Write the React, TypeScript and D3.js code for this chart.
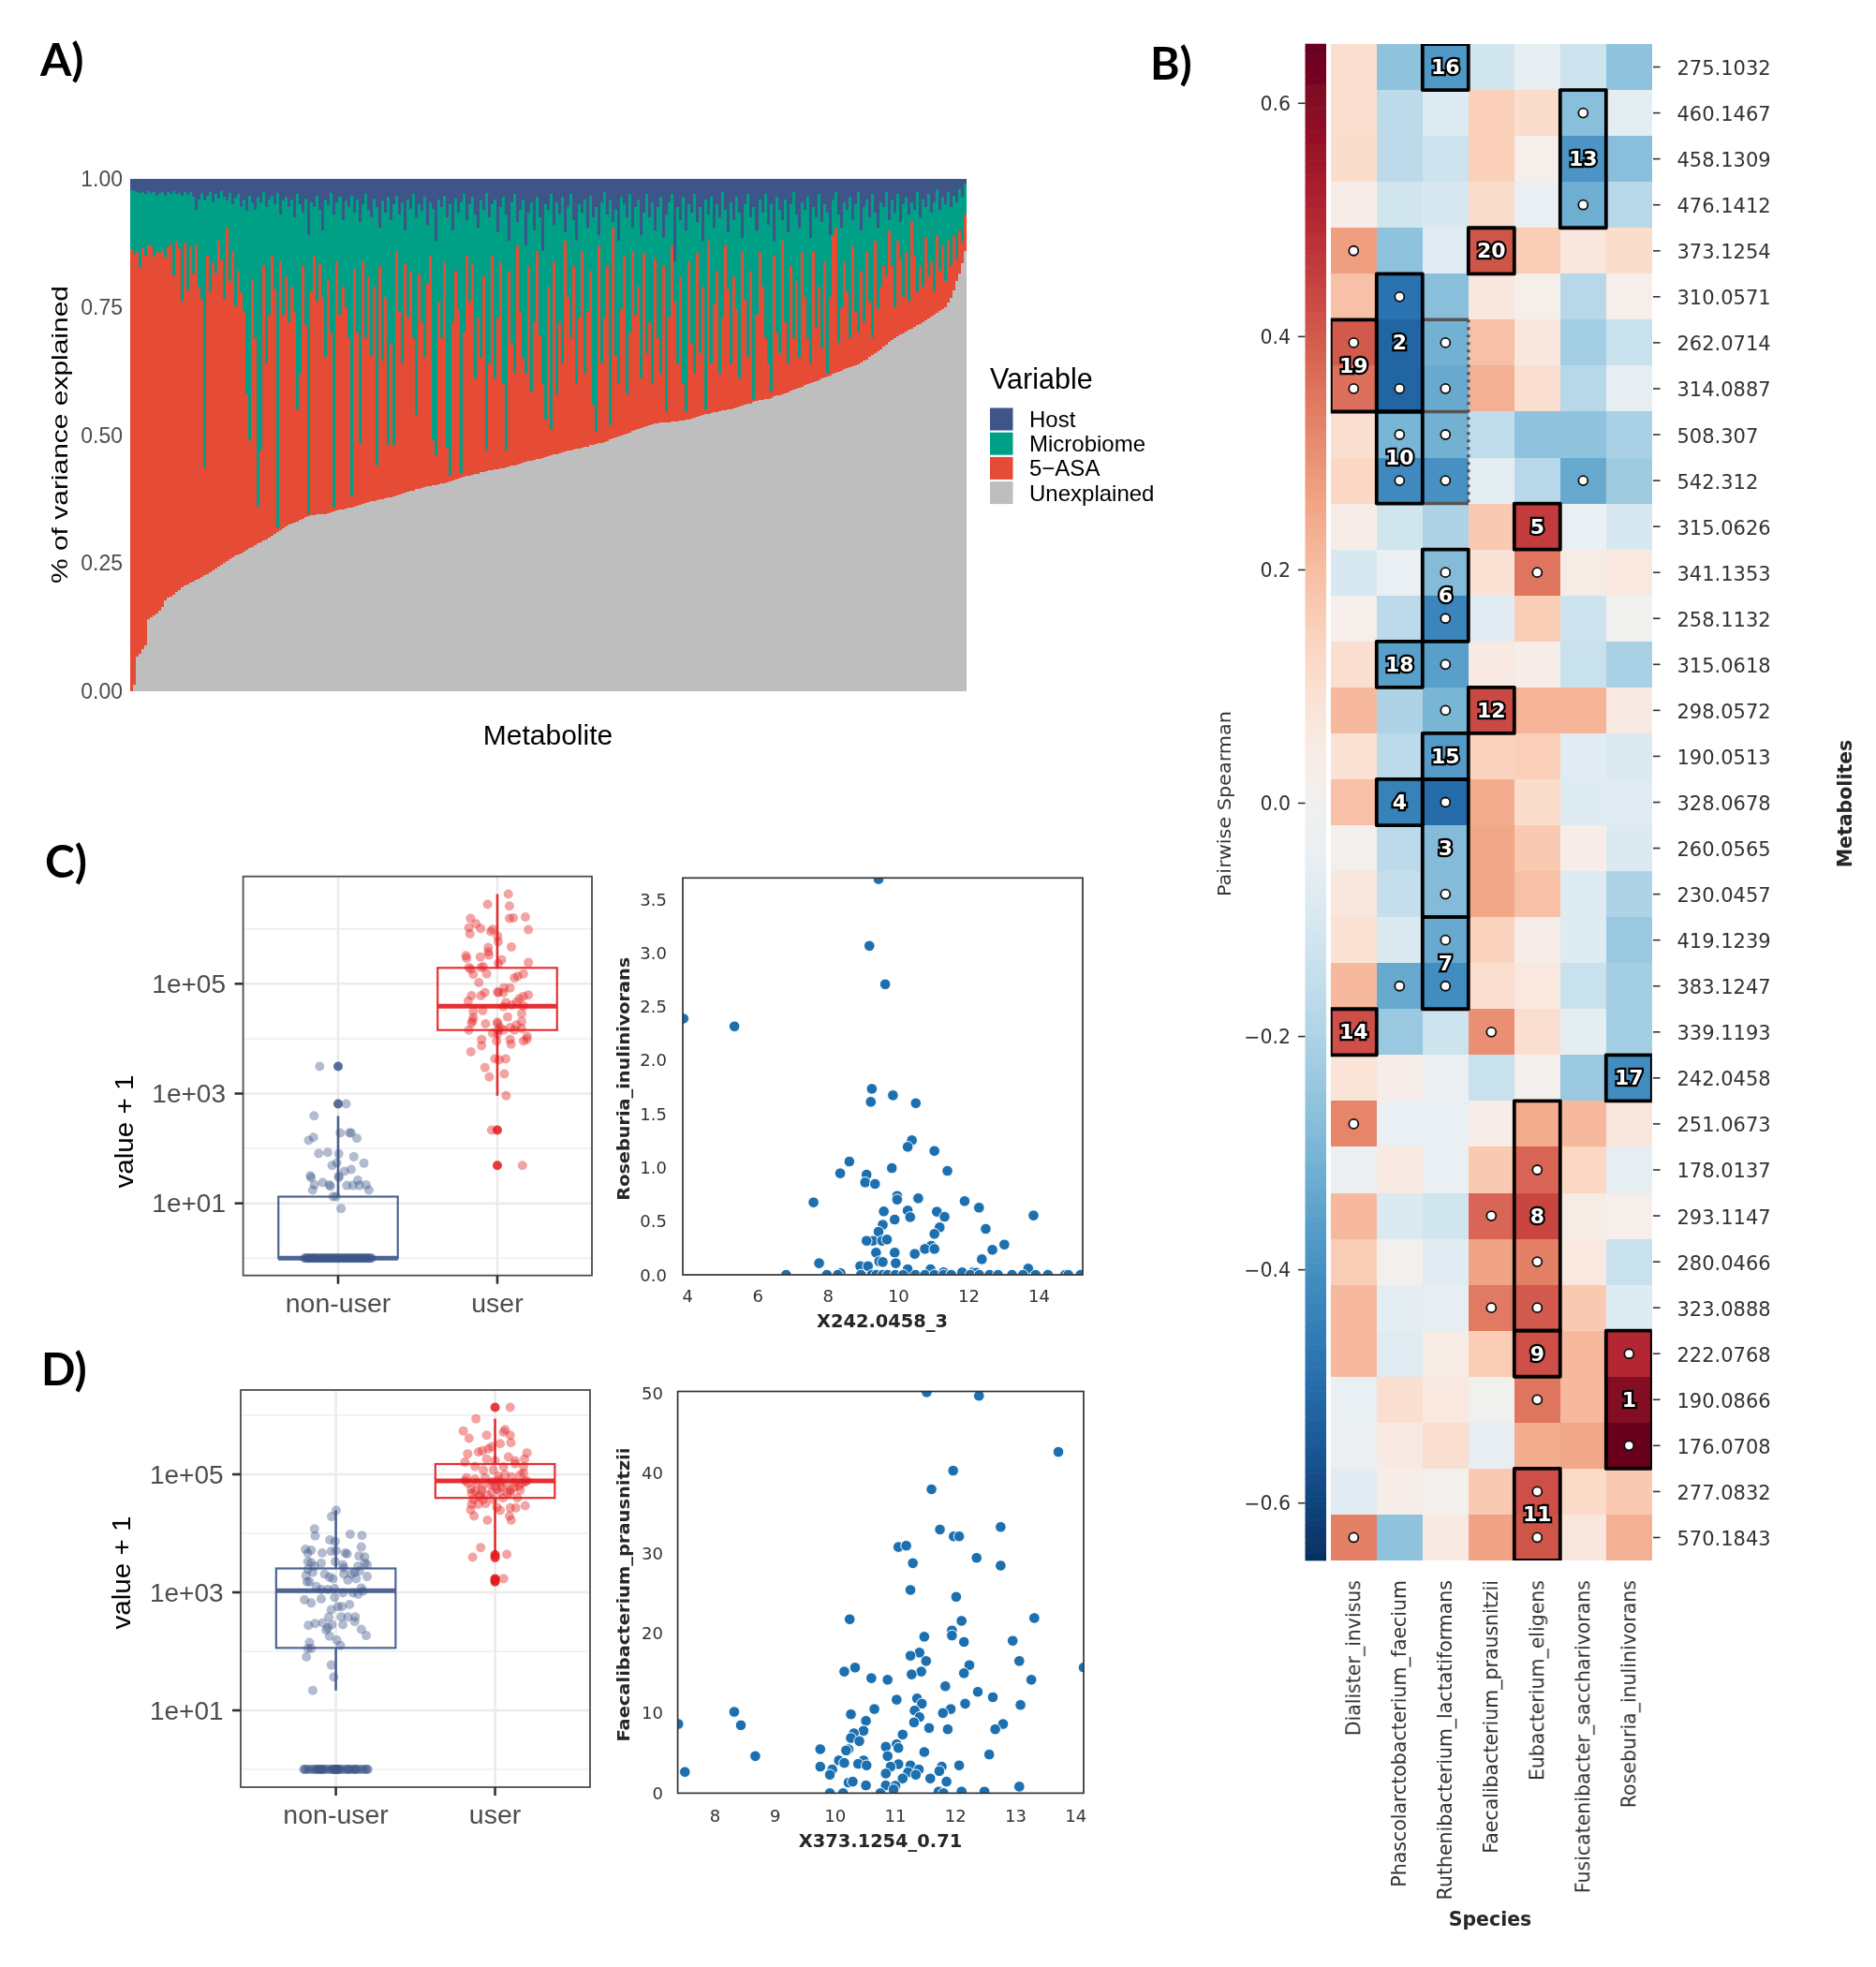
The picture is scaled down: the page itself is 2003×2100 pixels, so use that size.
import React from "react";
import * as d3 from "d3";

const SANS = "'Liberation Sans', Arial, sans-serif";
const DJ = "'DejaVu Sans', sans-serif";

// ---------- Panel A: cumulative tops of stacked bars, per mille ----------
const varianceLevels = ["Host", "Microbiome", "5\u2212ASA", "Unexplained"];
const varianceColors = ["#3C5488", "#00A087", "#E64B35", "#BEBEBE"];
const varianceTicks = [0, 0.25, 0.5, 0.75, 1];
const unexplainedTop = [
  0,12,68,74,82,90,140,144,148,152,158,165,178,182,185,189,194,198,203,206,
  208,212,214,218,220,223,226,229,232,236,240,243,246,250,254,258,262,265,267,269,
  273,276,279,282,285,288,291,294,297,300,304,308,311,315,319,322,325,327,329,331,
  334,337,340,342,343,344,345,345,346,346,347,349,351,352,354,355,357,358,359,361,
  362,364,366,367,369,371,372,373,374,375,376,378,379,380,382,384,386,388,390,391,
  392,394,395,397,399,400,401,402,403,404,405,406,407,409,411,413,415,416,418,420,
  421,423,424,425,427,428,430,431,432,433,434,435,436,437,438,440,441,443,444,446,
  447,449,450,451,453,454,456,457,459,460,462,463,465,466,468,469,470,472,473,474,
  476,477,478,480,481,482,484,485,487,489,491,493,495,497,499,501,503,505,508,510,
  512,514,516,518,520,521,522,523,524,524,525,525,526,527,527,528,529,530,531,532,
  534,536,538,539,541,542,543,544,545,546,548,549,550,551,552,554,556,558,559,561,
  562,564,566,568,569,570,571,573,575,577,578,580,582,584,586,588,590,592,594,597,
  599,601,603,605,607,610,612,615,617,620,622,624,626,628,630,632,634,636,638,641,
  645,648,652,656,660,664,668,672,677,682,686,690,693,696,699,702,705,708,711,714,
  717,720,724,728,732,735,738,742,746,750,758,768,782,800,815,835,860,
];
const asaTop = [
  863,852,860,826,866,850,872,868,848,858,855,862,846,868,872,812,880,865,760,875,
  782,868,815,872,790,765,436,850,778,838,815,880,842,765,905,800,860,752,820,778,
  742,580,490,805,690,360,470,830,640,735,850,785,320,840,735,810,720,790,740,550,
  620,830,715,345,780,850,760,835,770,650,805,700,358,840,735,790,750,690,380,825,
  700,485,840,690,810,655,790,440,830,645,770,480,680,480,860,740,640,835,730,820,
  690,540,815,720,650,795,850,490,460,760,690,840,475,420,720,820,745,425,700,850,
  760,835,610,730,650,810,470,640,850,610,730,840,600,470,820,680,620,870,740,650,
  620,830,585,720,860,695,600,530,790,510,840,580,720,640,880,770,690,830,600,730,
  860,620,740,820,560,506,870,640,730,830,520,905,655,600,745,850,580,700,860,735,
  790,610,855,660,720,600,845,690,620,830,545,730,870,760,640,810,600,545,840,680,
  620,855,660,790,550,880,640,755,820,620,730,870,785,640,810,745,610,860,765,650,
  820,570,735,860,790,690,640,585,850,700,660,880,720,640,830,690,800,650,860,770,
  690,640,860,710,790,670,840,620,770,890,905,680,750,840,780,690,870,740,700,820,
  720,860,760,690,880,745,790,830,810,900,830,750,880,845,770,860,760,915,850,780,
  830,790,885,810,840,780,890,820,870,800,880,830,890,845,900,875,930,
];
const microbiomeTop = [
  978,976,975,972,974,970,976,972,975,968,972,975,968,974,971,976,970,973,967,975,
  969,974,965,940,960,972,958,968,975,955,970,962,976,965,958,972,950,964,970,945,
  960,938,968,952,940,965,955,975,945,960,968,950,972,930,958,966,945,960,925,970,
  950,935,962,890,955,945,968,940,900,960,948,972,930,955,965,920,958,945,968,935,
  960,915,950,970,940,925,962,945,905,958,935,965,920,950,968,930,955,900,960,942,
  970,925,950,938,965,910,955,942,880,960,945,968,925,950,900,962,935,955,970,920,
  950,965,930,905,958,940,972,925,950,960,895,945,965,930,880,955,970,915,940,960,
  870,935,955,900,965,925,860,950,940,970,910,955,930,965,895,945,970,920,880,950,
  935,960,905,968,925,945,890,955,975,930,960,915,940,880,965,950,925,970,905,945,
  960,890,935,970,925,955,900,945,965,885,930,955,970,840,945,920,965,900,950,935,
  970,915,945,880,960,930,965,905,950,925,975,940,895,955,920,965,935,885,950,970,
  925,945,900,960,935,970,910,950,880,965,940,920,960,895,950,975,930,905,955,940,
  965,885,945,925,970,915,950,935,890,960,975,930,905,955,940,965,920,950,975,900,
  945,960,925,970,935,905,955,945,975,920,960,935,970,915,950,965,930,955,940,975,
  925,960,945,970,935,955,980,940,965,950,975,945,968,955,980,965,990,
];

// ---------- Panel B ----------
const metabolites = ["275.1032","460.1467","458.1309","476.1412","373.1254","310.0571","262.0714","314.0887","508.307","542.312","315.0626","341.1353","258.1132","315.0618","298.0572","190.0513","328.0678","260.0565","230.0457","419.1239","383.1247","339.1193","242.0458","251.0673","178.0137","293.1147","280.0466","323.0888","222.0768","190.0866","176.0708","277.0832","570.1843"];
const species = ["Dialister_invisus","Phascolarctobacterium_faecium","Ruthenibacterium_lactatiformans","Faecalibacterium_prausnitzii","Eubacterium_eligens","Fusicatenibacter_saccharivorans","Roseburia_inulinivorans"];
const spearman = [
  [.10,-.26,-.38,-.12,-.05,-.13,-.26],
  [.10,-.17,-.08,.15,.11,-.27,-.06],
  [.11,-.17,-.13,.15,.02,-.39,-.27],
  [.03,-.12,-.10,.11,-.04,-.32,-.18],
  [.27,-.26,-.07,.41,.16,.07,.11],
  [.19,-.48,-.27,.07,.02,-.18,.02],
  [.40,-.52,-.31,.19,.07,-.22,-.14],
  [.36,-.52,-.33,.23,.10,-.18,-.05],
  [.10,-.30,-.31,-.16,-.26,-.26,-.21],
  [.13,-.42,-.40,-.06,-.18,-.33,-.23],
  [.03,-.12,-.20,.17,.46,-.04,-.10],
  [-.10,-.04,-.28,.09,.35,.04,.06],
  [.02,-.17,-.43,-.07,.16,-.13,-.01],
  [.10,-.36,-.36,.05,.03,-.14,-.21],
  [.21,-.20,-.30,.43,.22,.22,.05],
  [.09,-.17,-.37,.14,.15,-.07,-.09],
  [.19,-.44,-.50,.24,.11,-.08,-.07],
  [.01,-.17,-.28,.25,.17,.03,-.09],
  [.07,-.15,-.28,.25,.19,-.08,-.20],
  [.09,-.09,-.33,.14,.03,-.08,-.24],
  [.21,-.33,-.41,.10,.06,-.14,-.22],
  [.42,-.24,-.13,.30,.10,-.06,-.22],
  [.08,.03,-.03,-.14,.01,-.24,-.41],
  [.32,-.04,-.04,.03,.24,.21,.07],
  [-.03,.05,-.04,.17,.38,.13,-.05],
  [.21,-.09,-.12,.38,.44,.04,.02],
  [.16,.01,-.07,.26,.33,.06,-.14],
  [.21,-.06,-.05,.34,.40,.17,-.08],
  [.21,-.07,.04,.16,.42,.21,.50],
  [-.04,.10,.06,-.01,.35,.21,.60],
  [-.03,.05,.10,-.05,.24,.25,.65],
  [-.07,.03,.01,.17,.42,.12,.17],
  [.33,-.26,.05,.26,.41,.07,.23],
];
// [label, column, first row, number of rows]
const clusters: [string, number, number, number][] = [
  ["16",2,0,1],["13",5,1,3],["20",3,4,1],["2",1,5,3],["19",0,6,2],["10",1,8,2],["5",4,10,1],["6",2,11,2],
  ["18",1,13,1],["12",3,14,1],["15",2,15,1],["4",1,16,1],["3",2,16,3],["7",2,19,2],["14",0,21,1],["17",6,22,1],
  ["8",4,23,5],["9",4,28,1],["1",6,28,3],["11",4,31,2],
];
const significant: [number, number][] = [
  [1,5],[3,5],[4,0],[5,1],[6,0],[7,0],[6,2],[7,2],[7,1],[8,1],[8,2],[9,1],[9,2],[9,5],[11,2],[11,4],[12,2],[13,2],[14,2],
  [16,2],[18,2],[19,2],[20,1],[20,2],[21,3],[23,0],[24,4],[25,3],[26,4],[27,3],[27,4],[28,6],[29,4],[30,6],[31,4],[32,0],[32,4],
];
const colorbarTicks = [0.6, 0.4, 0.2, 0, -0.2, -0.4, -0.6];

// ---------- Panels C, D: [jitter, log10(value + 1)] ----------
const groups = ["non-user", "user"];
const groupColors = ["#3C5488", "#E41A1C"];
const logTicks = [1, 3, 5];
const logMinor = [0, 2, 4, 6];
const zeroJitterC = [-.21,-.2,-.19,-.18,-.17,-.16,-.15,-.145,-.13,-.12,-.11,-.1,-.09,-.08,-.07,-.06,-.05,-.04,-.03,-.02,-.01,0,.005,.02,.03,.04,.05,.06,.07,.08,.09,.1,.11,.12,.13,.14,.15,.16,.17,.18,.19,.2,.21];
const zeroJitterD = [-.2,-.19,-.17,-.15,-.13,-.12,-.11,-.1,-.09,-.08,-.07,-.05,-.03,-.02,-.01,0,0,.005,.01,.02,.03,.05,.07,.08,.09,.11,.12,.13,.15,.17,.19,.2];
const cNonUser = [[-.116,3.496],[.05,2.813],[-.151,2.596],[.013,2.283],[.071,2.283],[.082,2.283],[.118,2.186],[-.155,2.203],[-.185,2.147],[-.065,1.93],[-.122,1.907],[.004,1.902],[.099,1.85],[.162,1.731],[-.008,1.737],[-.038,1.691],[.082,1.617],[.04,1.583],[-.174,1.503],[-.17,1.469],[.004,1.497],[.004,1.469],[-.097,1.378],[-.149,1.338],[-.055,1.338],[-.048,1.31],[.124,1.423],[.055,1.326],[.092,1.326],[.134,1.326],[.176,1.338],[.193,1.241],[-.16,1.241],[-.032,1.122],[-.013,1.122],[.019,.905]];
const cUser = [[.069,6.634],[-.061,6.446],[.076,6.418],[-.168,6.19],[-.134,6.093],[.076,6.19],[.101,6.201],[.176,6.218],[-.179,6.019],[-.172,5.911],[-.105,6.008],[-.029,5.991],[-.042,5.951],[.195,5.985],[.002,5.865],[.006,5.763],[.088,5.672],[-.057,5.66],[-.057,5.58],[-.053,5.523],[-.197,5.512],[-.107,5.489],[-.193,5.467],[.027,5.438],[.006,5.37],[.195,5.387],[-.179,5.296],[-.166,5.267],[-.088,5.313],[-.103,5.296],[-.067,5.182],[-.151,5.17],[-.116,5.022],[.164,5.182],[.128,5.136],[.107,5.108],[.08,4.926],[.042,4.926],[.002,4.851],[.038,4.84],[-.078,4.84],[-.103,4.783],[-.162,4.783],[-.183,4.686],[.195,4.795],[.164,4.772],[.139,4.726],[.122,4.669],[.006,4.84],[.053,4.658],[.09,4.612],[.164,4.595],[.038,4.584],[-.151,4.498],[-.092,4.51],[-.151,4.384],[.153,4.458],[.065,4.396],[-.155,4.328],[-.162,4.282],[-.074,4.271],[.002,4.271],[.153,4.316],[-.179,4.157],[.006,4.157],[.002,4.088],[.08,4.202],[.038,4.157],[.107,4.157],[.153,4.185],[.187,4.043],[.185,3.986],[.164,3.957],[.08,3.986],[.086,3.9],[-.004,3.957],[-.099,3.986],[-.099,3.872],[-.166,3.758],[-.015,3.633],[.053,3.633],[.011,3.616],[-.078,3.473],[-.05,3.302],[.044,3.359],[.055,2.961],[-.036,2.334],[.158,1.691],[.0,4.3],[.02,4.2],[-.03,4.1],[.12,4.25]];
const cOutliers = [[3.496, 2.813], [2.334, 1.691]];
const cBoxes = [
  { q1: 0, med: 0, q3: 1.122, lo: 0, hi: 2.59 },
  { q1: 4.157, med: 4.59, q3: 5.29, lo: 2.96, hi: 6.634 },
];
const dNonUser = [[.002,4.389],[-.027,4.284],[-.134,4.074],[-.13,3.957],[.09,3.984],[.164,3.963],[-.038,3.889],[-.004,3.863],[.16,3.768],[-.191,3.731],[-.155,3.715],[-.176,3.663],[-.086,3.668],[-.029,3.694],[.002,3.705],[.059,3.668],[.071,3.652],[.145,3.615],[.181,3.6],[-.176,3.521],[-.155,3.505],[-.092,3.494],[-.134,3.442],[-.004,3.521],[.044,3.468],[.05,3.415],[.139,3.442],[.181,3.494],[.197,3.468],[-.176,3.389],[-.145,3.336],[-.187,3.284],[-.071,3.31],[-.04,3.257],[-.019,3.231],[.05,3.31],[.097,3.31],[.118,3.336],[.149,3.363],[.197,3.268],[-.181,3.178],[-.166,3.178],[.076,3.205],[.128,3.231],[-.124,3.099],[-.092,3.047],[-.05,3.047],[-.008,3.063],[.044,2.994],[.107,2.994],[.139,2.968],[.16,3.073],[.17,3.021],[-.197,2.873],[-.155,2.82],[-.092,2.889],[-.008,2.915],[.086,2.794],[.013,2.757],[.038,2.757],[-.029,2.705],[-.044,2.584],[.034,2.584],[.076,2.584],[.122,2.584],[.044,2.452],[.118,2.505],[-.172,2.442],[-.13,2.473],[-.082,2.484],[-.025,2.452],[-.061,2.363],[-.05,2.4],[.16,2.373],[.191,2.268],[-.04,2.257],[.006,2.189],[-.166,2.152],[.029,2.1],[-.176,2.047],[-.155,2.047],[-.185,1.905],[-.029,1.768],[-.013,1.563],[-.145,1.336]];
const dUser = [[.095,6.136],[-.12,5.942],[-.2,5.736],[-.164,5.61],[-.053,5.663],[.063,5.757],[.053,5.715],[.095,5.663],[.099,5.536],[.032,5.521],[-.021,5.468],[-.042,5.431],[-.08,5.399],[-.105,5.378],[-.172,5.347],[.2,5.363],[.084,5.294],[.185,5.257],[.126,5.231],[-.053,5.257],[-.189,5.205],[-.126,5.136],[0,5.231],[.053,5.126],[.179,5.126],[.126,5.178],[-.074,5.073],[-.011,5.073],[.179,5.021],[.063,4.994],[-.179,4.942],[-.126,4.915],[-.063,4.942],[.021,4.968],[.105,4.957],[.158,4.994],[-.189,4.889],[-.116,4.852],[-.021,4.873],[.032,4.863],[.126,4.863],[.189,4.873],[.2,4.889],[.095,4.731],[.158,4.731],[-.126,4.715],[-.084,4.731],[.011,4.747],[-.147,4.678],[-.095,4.652],[.032,4.694],[.095,4.694],[-.137,4.573],[-.074,4.573],[-.011,4.573],[-.147,4.494],[-.105,4.494],[-.059,4.505],[.011,4.442],[.032,4.389],[.095,4.431],[.13,4.431],[.189,4.468],[-.153,4.399],[-.132,4.294],[.09,4.294],[.101,4.221],[-.048,4.221],[-.09,3.757],[-.141,3.594],[.074,3.642],[.053,3.232],[0,4.8],[.04,4.78],[-.03,4.83],[.07,4.82],[.12,4.78],[-.08,4.79],[-.15,4.75],[.15,4.8],[-.17,4.85],[.17,4.85],[.02,4.9],[-.05,4.65],[.05,4.6],[.14,4.6],[-.1,4.62],[-.02,4.7],[.08,4.68]];
const dOutliers = [[], [6.136, 3.636, 3.589, 3.232, 3.179, 3.205]];
const dBoxes = [
  { q1: 2.058, med: 3.026, q3: 3.405, lo: 1.337, hi: 4.39 },
  { q1: 4.6, med: 4.889, q3: 5.174, lo: 3.653, hi: 5.942 },
];

// ---------- Scatter panels ----------
const scatterC = [[9.43,3.689],[9.17,3.067],[9.62,2.709],[3.88,2.389],[5.33,2.316],[9.24,1.734],[9.84,1.673],[9.21,1.612],[10.49,1.6],[11.02,1.155],[10.38,1.254],[10.26,1.193],[11.39,.969],[8.6,1.056],[9.81,.995],[8.34,.946],[9.09,.934],[9.05,.861],[9.33,.847],[9.96,.736],[9.96,.701],[10.56,.713],[11.88,.687],[7.58,.675],[12.29,.626],[9.58,.591],[10.26,.599],[11.09,.588],[10.33,.538],[11.31,.541],[13.84,.553],[9.89,.515],[9.55,.466],[9.43,.402],[11.17,.442],[12.48,.428],[11.02,.381],[9.27,.317],[9.53,.317],[9.09,.317],[9.67,.329],[13.01,.282],[10.93,.271],[10.75,.241],[11.02,.241],[12.67,.233],[9.36,.207],[9.89,.207],[10.46,.195],[12.37,.145],[9.45,.125],[9.55,.119],[7.74,.108],[9.92,.108],[8.91,.081],[9.13,.081],[13.69,.058],[10.91,.052],[10.26,.052],[11.81,.023],[12.12,.023],[12.21,.02],[11.28,.023],[8.35,.015],
  [6.8,0],[7.96,0],[8.27,0],[8.93,0],[9.24,0],[9.37,0],[9.55,0],[9.69,0],[9.91,0],[10.13,0],[10.48,0],[10.75,0],[11.02,0],[11.28,0],[11.5,0],[12.04,0],[12.3,0],[12.59,0],[12.83,0],[13.23,0],[13.54,0],[13.9,0],[14.25,0],[14.74,0],[14.83,0],[15.18,0]];
const scatterD = [[11.52,50.1],[12.39,49.65],[13.71,42.64],[11.96,40.3],[11.6,37.97],[11.74,32.94],[12.75,33.26],[11.97,32.09],[12.06,32.09],[11.05,30.76],[11.18,30.92],[11.29,28.74],[12.35,29.4],[12.75,28.43],[11.25,25.39],[12.01,24.53],[10.24,21.73],[12.1,21.53],[13.31,21.88],[11.94,20.33],[11.94,19.7],[11.48,19.55],[12.95,19.04],[12.14,18.89],[11.4,17.56],[11.25,17.17],[11.51,16.51],[13.06,16.51],[12.23,16],[10.33,15.69],[10.15,15.19],[11.43,15.19],[14.13,15.7],[12.14,14.99],[11.27,14.84],[10.6,14.37],[10.87,14.17],[13.26,14.17],[11.83,13.36],[12.37,12.66],[11.36,11.84],[12.62,11.99],[11.02,11.68],[11.44,11.18],[12.16,11.18],[13.08,11.02],[10.65,10.51],[11.92,10.51],[11.32,10.32],[8.32,10.16],[11.79,10.01],[10.26,9.85],[11.4,9.5],[10.51,9.03],[11.31,8.84],[7.39,8.64],[12.79,8.64],[8.43,8.49],[11.56,8.14],[11.87,7.98],[12.66,7.98],[10.47,7.79],[10.31,7.48],[10.26,6.89],[11.12,7.32],[10.4,6.5],[11.02,6.11],[10.84,5.8],[11.05,5.65],[9.75,5.49],[10.22,5.49],[10.18,5.33],[11.48,5.14],[8.67,4.63],[10.87,4.63],[12.56,4.83],[10.47,4.09],[10.06,4.09],[10.15,3.78],[10.38,3.66],[10.52,3.47],[12.06,3.47],[11.05,3.62],[11.25,3.47],[10.92,3.31],[9.75,3.31],[9.95,2.96],[11.77,3.31],[11.73,2.76],[11.39,2.96],[10.84,2.45],[11.21,2.61],[9.91,2.3],[11.34,2.3],[7.5,2.65],[11.12,1.83],[11.58,1.83],[10.22,1.32],[10.29,1.44],[11.85,1.44],[10.84,.97],[11,.93],[10.51,.97],[13.06,.82],[10.97,.47],[9.91,0],[10.13,0],[10.75,0],[11.72,.2],[11.8,0],[12.1,.2],[12.48,.2]];
const scatterCxTicks = [4, 6, 8, 10, 12, 14];
const scatterCyTicks = [0, 0.5, 1, 1.5, 2, 2.5, 3, 3.5];
const scatterDxTicks = [8, 9, 10, 11, 12, 13, 14];
const scatterDyTicks = [0, 10, 20, 30, 40, 50];

type Frame = { l: number; r: number; t: number; b: number };

function StackedBars() {
  const f: Frame = { l: 139, r: 1032, t: 191, b: 738 };
  const x = d3.scaleBand<number>().domain(d3.range(unexplainedTop.length)).range([f.l, f.r]);
  const y = d3.scaleLinear().domain([0, 1]).range([f.b, f.t]);
  const w = x.bandwidth() + 0.4;
  return (
    <g>
      {unexplainedTop.map((u, i) => {
        const px = x(i) as number;
        const a = asaTop[i] / 1000, m = microbiomeTop[i] / 1000, ue = u / 1000;
        return (
          <g key={i} shapeRendering="crispEdges">
            <rect x={px} width={w} y={y(1)} height={y(m) - y(1)} fill={varianceColors[0]} />
            <rect x={px} width={w} y={y(m)} height={y(a) - y(m)} fill={varianceColors[1]} />
            <rect x={px} width={w} y={y(a)} height={y(ue) - y(a)} fill={varianceColors[2]} />
            <rect x={px} width={w} y={y(ue)} height={y(0) - y(ue)} fill={varianceColors[3]} />
          </g>
        );
      })}
      {varianceTicks.map((t) => (
        <text key={t} x={131} y={y(t)} textAnchor="end" dominantBaseline="central" fontFamily={SANS} fontSize={23} fill="#4d4d4d">{t.toFixed(2)}</text>
      ))}
      <text transform="translate(63,464) rotate(-90)" textAnchor="middle" dominantBaseline="central" fontFamily={SANS} fontSize={24} textLength={318} lengthAdjust="spacingAndGlyphs">% of variance explained</text>
      <text x={585} y={795} textAnchor="middle" fontFamily={SANS} fontSize={30}>Metabolite</text>
      <text x={1057} y={415} fontFamily={SANS} fontSize={30.5}>Variable</text>
      {varianceLevels.map((lab, i) => (
        <g key={lab}>
          <rect x={1057} y={435.5 + i * 26.2} width={24.5} height={24} fill={varianceColors[i]} />
          <text x={1099} y={447.5 + i * 26.2} dominantBaseline="central" fontFamily={SANS} fontSize={24}>{lab}</text>
        </g>
      ))}
    </g>
  );
}

function Heatmap() {
  const hm: Frame = { l: 1420.8, r: 1763.8, t: 47, b: 1666 };
  const x = d3.scaleBand<number>().domain(d3.range(species.length)).range([hm.l, hm.r]);
  const y = d3.scaleBand<number>().domain(d3.range(metabolites.length)).range([hm.t, hm.b]);
  const color = (v: number) => d3.interpolateRdBu(1 - (v + 0.65) / 1.3);
  const cb = d3.scaleLinear().domain([-0.65, 0.65]).range([hm.b, hm.t]);
  const stops = d3.range(-0.65, 0.65, 0.005);
  const bw = x.bandwidth(), bh = y.bandwidth();
  return (
    <g>
      <defs>
        <clipPath id="hmClip"><rect x={hm.l} y={hm.t} width={hm.r - hm.l} height={hm.b - hm.t} /></clipPath>
        <clipPath id="rowClip"><rect x={1791} y={0} width={200} height={2100} /></clipPath>
      </defs>
      {stops.map((v) => (
        <rect key={v} x={1393.5} width={22.5} y={cb(v + 0.005) - 0.3} height={cb(v) - cb(v + 0.005) + 0.6} fill={color(v + 0.0025)} />
      ))}
      {colorbarTicks.map((t) => (
        <g key={t}>
          <line x1={1386} x2={1393.5} y1={cb(t) + 1} y2={cb(t) + 1} stroke="#333" strokeWidth={1.6} />
          <text x={1378} y={cb(t) + 1.5} textAnchor="end" dominantBaseline="central" fontFamily={DJ} fontSize={20.5} fill="#333">
            {t < 0 ? "\u2212" + Math.abs(t).toFixed(1) : t.toFixed(1)}
          </text>
        </g>
      ))}
      <text transform="translate(1307,858) rotate(-90)" textAnchor="middle" dominantBaseline="central" fontFamily={DJ} fontSize={20} fill="#333" textLength={198} lengthAdjust="spacingAndGlyphs">Pairwise Spearman</text>
      {spearman.map((row, r) => row.map((v, c) => (
        <rect key={r + "-" + c} x={x(c)} y={y(r)} width={bw + 0.3} height={bh + 0.3} fill={color(v)} shapeRendering="crispEdges" />
      )))}
      <g clipPath="url(#hmClip)">
        <g fill="none" stroke="#555" strokeWidth={3.5}>
          <line x1={x(2)} x2={x(3)} y1={y(6)} y2={y(6)} />
          <line x1={x(2)} x2={x(3)} y1={y(8)} y2={y(8)} />
          <line x1={x(2)} x2={x(3)} y1={y(10)} y2={y(10)} />
          <line x1={x(3)} x2={x(3)} y1={y(6)} y2={y(10)} strokeDasharray="3 5" />
        </g>
        {clusters.map(([lab, c, r, n]) => (
          <rect key={lab} x={x(c)} y={y(r)} width={bw} height={bh * n} fill="none" stroke="#000" strokeWidth={3.8} strokeLinejoin="round" />
        ))}
      </g>
      {significant.map(([r, c]) => (
        <circle key={r + "_" + c} cx={(x(c) as number) + bw / 2} cy={(y(r) as number) + bh / 2} r={5} fill="#fff" stroke="#111" strokeWidth={1.8} />
      ))}
      {clusters.map(([lab, c, r, n]) => (
        <text key={lab} x={(x(c) as number) + bw / 2} y={(y(r) as number) + (bh * n) / 2} textAnchor="middle" dominantBaseline="central" fontFamily={DJ} fontWeight="bold" fontSize={22} fill="#fff" stroke="#000" strokeWidth={4.5} style={{ paintOrder: "stroke" }}>{lab}</text>
      ))}
      {metabolites.map((m, r) => {
        const cy = (y(r) as number) + bh / 2;
        return (
          <g key={r}>
            <line x1={1765} x2={1772.6} y1={cy} y2={cy} stroke="#333" strokeWidth={1.6} />
            <text x={1790.5} y={cy + 1.5} dominantBaseline="central" fontFamily={DJ} fontSize={21} fill="#333" clipPath="url(#rowClip)">{m}</text>
          </g>
        );
      })}
      {species.map((s, c) => (
        <text key={s} transform={`translate(${(x(c) as number) + bw / 2},1687) rotate(-90)`} textAnchor="end" dominantBaseline="central" fontFamily={DJ} fontSize={20.5} fill="#333">{s}</text>
      ))}
      <text x={1591} y={2049} textAnchor="middle" dominantBaseline="central" fontFamily={DJ} fontWeight="bold" fontSize={20.5} fill="#262626">Species</text>
      <text transform="translate(1970,858) rotate(-90)" textAnchor="middle" dominantBaseline="central" fontFamily={DJ} fontWeight="bold" fontSize={20.5} fill="#262626">Metabolites</text>
    </g>
  );
}

function BoxPanel(p: { f: Frame; one: number; decade: number; cx: number[]; labelR: number; labelY: number; titleX: number; titleY: number; data: number[][][]; zero: number[]; outliers: number[][]; boxes: any[] }) {
  const { f, one, decade, cx, data, zero, outliers, boxes } = p;
  const y = d3.scaleLinear().domain([0, 1]).range([one, one - decade]);
  const x = d3.scaleLinear().domain([0, 1]).range([cx[0], cx[1]]);
  const step = cx[1] - cx[0];
  const bw = step * 0.75;
  const id = "boxClip" + Math.round(f.t);
  return (
    <g>
      <defs><clipPath id={id}><rect x={f.l} y={f.t} width={f.r - f.l} height={f.b - f.t} /></clipPath></defs>
      <g clipPath={`url(#${id})`}>
        {logMinor.map((t) => <line key={t} x1={f.l} x2={f.r} y1={y(t)} y2={y(t)} stroke="#eeeeee" strokeWidth={1.5} />)}
        {logTicks.map((t) => <line key={t} x1={f.l} x2={f.r} y1={y(t)} y2={y(t)} stroke="#ebebeb" strokeWidth={2.6} />)}
        {cx.map((c) => <line key={c} x1={c} x2={c} y1={f.t} y2={f.b} stroke="#ebebeb" strokeWidth={2.6} />)}
        {boxes.map((b, i) => (
          <g key={i} stroke={groupColors[i]} fill="none" opacity={0.9}>
            <line x1={x(i)} x2={x(i)} y1={y(b.q3)} y2={y(b.hi)} strokeWidth={2.6} />
            <line x1={x(i)} x2={x(i)} y1={y(b.q1)} y2={y(b.lo)} strokeWidth={2.6} />
            <rect x={x(i) - bw / 2} width={bw} y={y(b.q3)} height={y(b.q1) - y(b.q3)} strokeWidth={2.2} />
            <line x1={x(i) - bw / 2} x2={x(i) + bw / 2} y1={y(b.med)} y2={y(b.med)} strokeWidth={5} />
          </g>
        ))}
        {outliers.map((ls, i) => ls.map((L, k) => (
          <circle key={i + "o" + k} cx={x(i)} cy={y(L)} r={5} fill={groupColors[i]} opacity={0.85} />
        )))}
        {data.map((pts, i) => pts.map(([j, L], k) => (
          <circle key={i + "p" + k} cx={x(i) + j * step} cy={y(L)} r={5} fill={groupColors[i]} opacity={0.4} />
        )))}
        {zero.map((j, k) => (
          <circle key={"z" + k} cx={x(0) + j * step} cy={y(0)} r={5} fill={groupColors[0]} opacity={0.55} />
        ))}
      </g>
      <rect x={f.l} y={f.t} width={f.r - f.l} height={f.b - f.t} fill="none" stroke="#4d4d4d" strokeWidth={1.8} />
      {logTicks.map((t) => (
        <g key={t}>
          <line x1={f.l - 9} x2={f.l} y1={y(t)} y2={y(t)} stroke="#333" strokeWidth={2.6} />
          <text x={p.labelR} y={y(t)} textAnchor="end" dominantBaseline="central" fontFamily={SANS} fontSize={28} fill="#4d4d4d">{"1e+0" + t}</text>
        </g>
      ))}
      {groups.map((g, i) => (
        <g key={g}>
          <line x1={cx[i]} x2={cx[i]} y1={f.b} y2={f.b + 9} stroke="#333" strokeWidth={2.6} />
          <text x={cx[i]} y={p.labelY} textAnchor="middle" dominantBaseline="central" fontFamily={SANS} fontSize={28.5} fill="#4d4d4d">{g}</text>
        </g>
      ))}
      <text transform={`translate(${p.titleX},${p.titleY}) rotate(-90)`} textAnchor="middle" dominantBaseline="central" fontFamily={SANS} fontSize={28} textLength={121} lengthAdjust="spacingAndGlyphs">value + 1</text>
    </g>
  );
}

function Scatter(p: { f: Frame; xd: number[]; yd: number[]; xt: number[]; yt: number[]; pts: number[][]; xlab: string; ylab: string; xlabY: number; tickY: number; tickR: number; ylabX: number; ylabY: number; ylabLen: number; fmt: (v: number) => string; xlabX: number }) {
  const { f, pts } = p;
  const x = d3.scaleLinear().domain(p.xd).range([f.l, f.r]);
  const y = d3.scaleLinear().domain(p.yd).range([f.b, f.t]);
  const id = "scClip" + Math.round(f.t);
  return (
    <g>
      <defs><clipPath id={id}><rect x={f.l} y={f.t} width={f.r - f.l} height={f.b - f.t} /></clipPath></defs>
      <g clipPath={`url(#${id})`}>
        {pts.map(([a, b], i) => (
          <circle key={i} cx={x(a)} cy={y(b)} r={5.8} fill="#1a6fb0" stroke="#fff" strokeWidth={1} />
        ))}
      </g>
      <rect x={f.l} y={f.t} width={f.r - f.l} height={f.b - f.t} fill="none" stroke="#333" strokeWidth={1.7} />
      {p.xt.map((t) => (
        <text key={t} x={x(t)} y={p.tickY} textAnchor="middle" dominantBaseline="central" fontFamily={DJ} fontSize={18} fill="#333">{t}</text>
      ))}
      {p.yt.map((t) => (
        <text key={t} x={p.tickR} y={y(t)} textAnchor="end" dominantBaseline="central" fontFamily={DJ} fontSize={18} fill="#333">{p.fmt(t)}</text>
      ))}
      <text x={p.xlabX} y={p.xlabY} textAnchor="middle" dominantBaseline="central" fontFamily={DJ} fontWeight="bold" fontSize={19.4} fill="#262626">{p.xlab}</text>
      <text transform={`translate(${p.ylabX},${p.ylabY}) rotate(-90)`} textAnchor="middle" dominantBaseline="central" fontFamily={DJ} fontWeight="bold" fontSize={18} fill="#262626" textLength={p.ylabLen} lengthAdjust="spacingAndGlyphs">{p.ylab}</text>
    </g>
  );
}

const panelLetters: [string, number, number][] = [["A)", 43, 62], ["B)", 1228, 66], ["C)", 48, 918], ["D)", 44, 1460]];

export default function App() {
  return (
    <svg width={2003} height={2100} style={{ position: "absolute", left: 0, top: 0, display: "block", background: "#fff" }}>
      <defs>
        <filter id="soft" filterUnits="userSpaceOnUse" x={0} y={0} width={2003} height={2100}>
          <feGaussianBlur stdDeviation={0.6} />
        </filter>
      </defs>
      <g filter="url(#soft)">
        <StackedBars />
        <Heatmap />
        <BoxPanel f={{ l: 259.6, r: 632, t: 935.7, b: 1361.7 }} one={1343.3} decade={58.6} cx={[361, 531]} labelR={241} labelY={1391} titleX={132} titleY={1208}
          data={[cNonUser, cUser]} zero={zeroJitterC} outliers={cOutliers} boxes={cBoxes} />
        <BoxPanel f={{ l: 257, r: 630, t: 1484, b: 1908 }} one={1889} decade={63} cx={[358.6, 528.6]} labelR={238.6} labelY={1937} titleX={129} titleY={1679}
          data={[dNonUser, dUser]} zero={zeroJitterD} outliers={dOutliers} boxes={dBoxes} />
        <Scatter f={{ l: 729, r: 1156, t: 937.3, b: 1361 }} xd={[3.86, 15.24]} yd={[0, 3.7]} xt={scatterCxTicks} yt={scatterCyTicks} pts={scatterC}
          xlab="X242.0458_3" ylab="Roseburia_inulinivorans" xlabX={942} xlabY={1410.7} tickY={1383.3} tickR={712} ylabX={665.6} ylabY={1151.7} ylabLen={260} fmt={(v) => v.toFixed(1)} />
        <Scatter f={{ l: 723.6, r: 1157, t: 1485.5, b: 1914.4 }} xd={[7.38, 14.13]} yd={[0, 50.2]} xt={scatterDxTicks} yt={scatterDyTicks} pts={scatterD}
          xlab="X373.1254_0.71" ylab="Faecalibacterium_prausnitzii" xlabX={940} xlabY={1965} tickY={1938.5} tickR={708} ylabX={665} ylabY={1702.6} ylabLen={314} fmt={(v) => String(v)} />
        {panelLetters.map(([t, x, y]) => (
          <text key={t} x={x} y={y} dominantBaseline="central" fontFamily="Lato, 'Open Sans', sans-serif" fontWeight="bold" fontSize={48} fill="#000">{t}</text>
        ))}
      </g>
    </svg>
  );
}
